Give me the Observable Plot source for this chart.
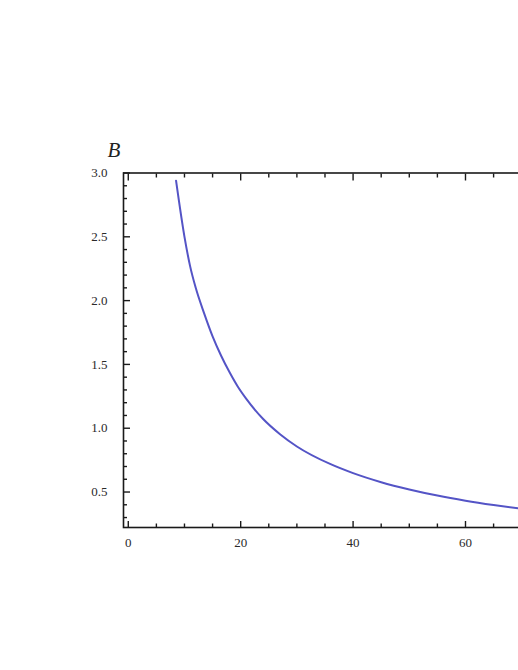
<!DOCTYPE html>
<html>
<head>
<meta charset="utf-8">
<script src="https://cdn.jsdelivr.net/npm/d3@7"></script>
<script src="https://cdn.jsdelivr.net/npm/@observablehq/plot@0.6"></script>
<style>
  html, body { margin: 0; padding: 0; background: #fff; overflow: hidden; }
  #chart svg { display: block; max-width: none !important; }
</style>
</head>
<body>
<div id="chart"></div>
<script>
// Curve
const xValues = [8.5, 10, 11, 12, 13.5, 15, 16.5, 18, 19.5, 21, 24, 27, 30, 36, 40, 45, 50, 55, 60, 65, 70, 75];
const bValues = [2.94, 2.50, 2.27, 2.10, 1.90, 1.72, 1.57, 1.44, 1.325, 1.23, 1.072, 0.953, 0.857, 0.718, 0.648, 0.577, 0.520, 0.472, 0.432, 0.398, 0.368, 0.342];

// Axes
const xMajorTicks = [0, 20, 40, 60, 80];
const xTickLabels = [0, 20, 40, 60];
const xMinorTicks = [5, 10, 15, 25, 30, 35, 45, 50, 55, 65, 70, 75];
const yMajorTicks = [0.5, 1.0, 1.5, 2.0, 2.5, 3.0];
const yMinorTicks = [0.3, 0.4, 0.6, 0.7, 0.8, 0.9, 1.1, 1.2, 1.3, 1.4, 1.6, 1.7, 1.8, 1.9, 2.1, 2.2, 2.3, 2.4, 2.6, 2.7, 2.8, 2.9];
const yAxisLabel = "B";

const data = xValues.map((x, i) => ({x, b: bValues[i]}));
const ink = "#1a1a1a";
const blank = () => "";

const plot = Plot.plot({
  width: 600,
  height: 670,
  marginLeft: 123,
  marginRight: 22.6,
  marginTop: 172.5,
  marginBottom: 143,
  style: {fontFamily: "'Liberation Serif', 'DejaVu Serif', serif", fontSize: "13px", color: ink, background: "#fff", maxWidth: "none"},
  x: {domain: [-0.85, 80]},
  y: {domain: [0.222, 3.0]},
  marks: [
    Plot.line(data, {x: "x", y: "b", curve: "monotone-x", stroke: "#5454c6", strokeWidth: 2}),
    // inward ticks, left
    Plot.axisY({anchor: "left", ticks: yMajorTicks, tickSize: 7, dx: 7, tickFormat: blank, strokeWidth: 1.4, label: null}),
    Plot.axisY({anchor: "left", ticks: yMinorTicks, tickSize: 4, dx: 4, tickFormat: blank, strokeWidth: 1.4, label: null}),
    // y labels
    Plot.axisY({anchor: "left", ticks: yMajorTicks, tickSize: 0, tickPadding: 16, tickFormat: d3.format(".1f"), fill: "#2a2a2a", label: null}),
    // inward ticks, bottom
    Plot.axisX({anchor: "bottom", ticks: xMajorTicks, tickSize: 6, dy: -6, tickFormat: blank, strokeWidth: 1.4, label: null}),
    Plot.axisX({anchor: "bottom", ticks: xMinorTicks, tickSize: 3.5, dy: -3.5, tickFormat: blank, strokeWidth: 1.4, label: null}),
    // inward ticks, top
    Plot.axisX({anchor: "top", ticks: xMajorTicks, tickSize: 7, dy: 7, tickFormat: blank, strokeWidth: 1.4, label: null}),
    Plot.axisX({anchor: "top", ticks: xMinorTicks, tickSize: 4, dy: 4, tickFormat: blank, strokeWidth: 1.4, label: null}),
    // x labels
    Plot.axisX({anchor: "bottom", ticks: xTickLabels, tickSize: 0, tickPadding: 10, tickFormat: d3.format("d"), fill: "#2a2a2a", label: null}),
    Plot.frame({stroke: ink, strokeWidth: 1.6}),
    Plot.text([yAxisLabel], {frameAnchor: "top-left", text: d => d, dx: -16, dy: -31, fontSize: 21, fontStyle: "italic", fill: "#222"})
  ]
});
document.getElementById("chart").append(plot);
</script>
</body>
</html>
